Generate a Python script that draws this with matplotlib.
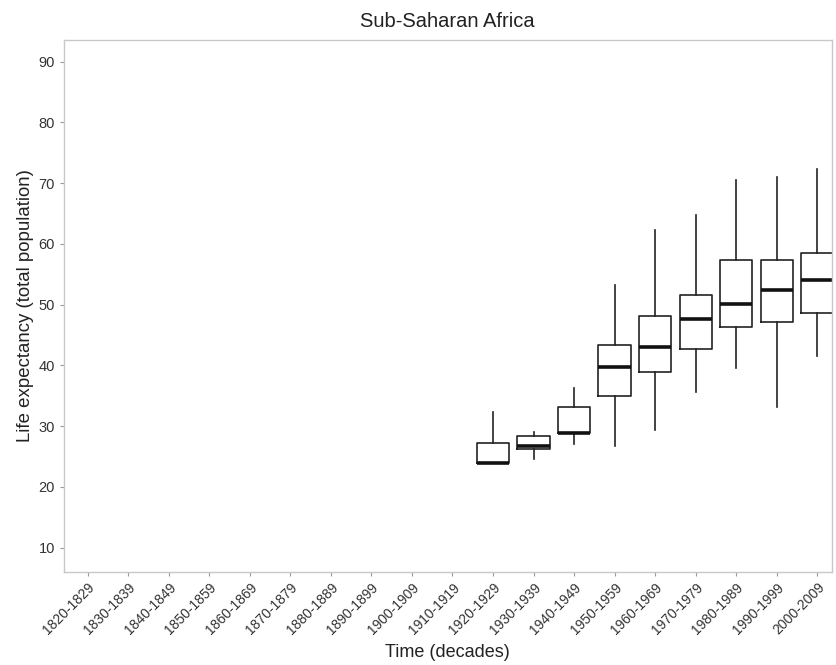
import matplotlib
matplotlib.use("Agg")
import matplotlib.pyplot as plt

plt.rcParams['font.family'] = ['Liberation Sans', 'DejaVu Sans']

decades = ["1820-1829", "1830-1839", "1840-1849", "1850-1859", "1860-1869",
           "1870-1879", "1880-1889", "1890-1899", "1900-1909", "1910-1919",
           "1920-1929", "1930-1939", "1940-1949", "1950-1959", "1960-1969",
           "1970-1979", "1980-1989", "1990-1999", "2000-2009"]

# Summary statistics of life expectancy per decade (None = no data)
whislo = [None] * 10 + [24.0, 24.6, 27.0, 26.8, 29.4, 35.7, 39.6, 33.2, 41.6]
q1     = [None] * 10 + [23.9, 26.3, 28.9, 34.9, 38.9, 42.7, 46.3, 47.1, 48.6]
median = [None] * 10 + [24.0, 26.8, 28.9, 39.7, 43.1, 47.6, 50.1, 52.4, 54.1]
q3     = [None] * 10 + [27.2, 28.3, 33.2, 43.4, 48.2, 51.6, 57.3, 57.3, 58.5]
whishi = [None] * 10 + [32.4, 29.1, 36.3, 53.3, 62.3, 64.8, 70.6, 71.1, 72.4]

stats, positions = [], []
for i, d in enumerate(decades):
    if median[i] is None:
        continue
    stats.append(dict(label=d, med=median[i], q1=q1[i], q3=q3[i],
                      whislo=whislo[i], whishi=whishi[i], fliers=[]))
    positions.append(i)

fig = plt.figure(figsize=(8.37, 6.65), dpi=100)
ax = fig.add_axes([0.0765, 0.140, 0.917, 0.800])

ax.bxp(stats, positions=positions, widths=0.8, showcaps=False,
       showfliers=False, manage_ticks=False,
       boxprops=dict(color='#222222', linewidth=1.2),
       whiskerprops=dict(color='#222222', linewidth=1.2),
       medianprops=dict(color='#111111', linewidth=2.6))

ax.set_xlim(-0.58, 18.35)
ax.set_ylim(6.0, 93.6)
ax.set_xticks(range(len(decades)))
ax.set_xticklabels(decades, rotation=45, ha='right', rotation_mode='anchor',
                   fontsize=10, color='#333333')
ax.set_yticks([10, 20, 30, 40, 50, 60, 70, 80, 90])
ax.tick_params(axis='y', labelsize=10.5, colors='#333333', length=3, color='#999999')
ax.tick_params(axis='x', length=3, color='#999999', pad=3)

for s in ax.spines.values():
    s.set_color('#c8c8c8')
    s.set_linewidth(1.0)

ax.set_title("Sub-Saharan Africa", fontsize=14.5, color='#222222', pad=9)
ax.set_xlabel("Time (decades)", fontsize=13, color='#222222', labelpad=5)
ax.set_ylabel("Life expectancy (total population)", fontsize=13.4, color='#222222',
              labelpad=3)

fig.savefig("out.png", dpi=100, facecolor='white')
